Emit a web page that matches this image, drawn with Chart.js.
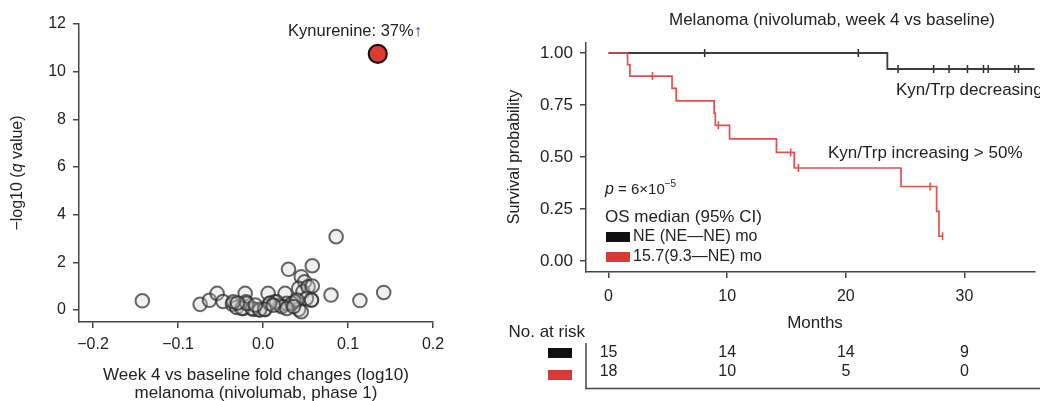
<!DOCTYPE html>
<html><head><meta charset="utf-8">
<script src="https://cdn.jsdelivr.net/npm/chart.js@4.4.0/dist/chart.umd.min.js"></script>
<style>
html,body{margin:0;padding:0;background:#fff;overflow:hidden;width:1040px;height:401px;}
#left{position:absolute;left:0;top:0;}
#right{position:absolute;left:480px;top:0;}
</style></head><body>
<canvas id="left" width="480" height="401"></canvas>
<canvas id="right" width="560" height="401"></canvas>
<script>
// ---------- Left panel: volcano-style scatter ----------
const metX = [-0.142,-0.074,-0.063,-0.054,-0.047,-0.036,-0.031,-0.021,-0.020,-0.023,-0.011,-0.004,0.002,0.006,0.008,0.014,0.020,0.026,0.030,0.028,0.038,0.042,0.045,0.049,0.042,0.047,0.053,0.058,0.058,0.057,0.051,0.080,0.086,0.114,0.142,-0.025,-0.013,-0.004,-0.035,0.016,0.022,0.034,0.040,0.045,0.057,0.008,0.002,-0.019,-0.009,0.028,-0.030,0.012,0.036];
const metY = [0.39,0.24,0.41,0.70,0.36,0.25,0.11,0.70,0.35,0.07,0.03,0.03,0.03,0.70,0.28,0.35,0.21,0.70,1.71,0.28,0.35,0.03,1.40,1.19,0.91,0.77,0.98,1.86,1.01,0.42,0.49,0.63,3.08,0.40,0.74,0.07,0.07,0.00,0.35,0.35,0.14,0.28,0.42,-0.07,0.42,0.28,0.03,0.28,0.21,0.07,0.30,0.20,0.15];
const kynX = [0.135];
const kynY = [10.75];
const leftYTicks = [0,2,4,6,8,10,12];
const leftXTicks = [-0.2,-0.1,0,0.1,0.2];
const leftXTickLabels = ['\u22120.2','\u22120.1','0.0','0.1','0.2'];

// ---------- Right panel: Kaplan-Meier ----------
const incT = [0,1.6,1.8,5.35,5.7,8.9,9.0,10.2,14.15,15.65,24.65,27.65,27.85,28.15];
const incS = [1,0.944,0.889,0.830,0.770,0.711,0.652,0.587,0.522,0.447,0.358,0.238,0.119,0.119];
const incCensT = [3.7,9.25,15.35,16.0,27.1,28.15];
const incCensS = [0.889,0.652,0.522,0.447,0.358,0.119];
const decT = [0,23.5,37];
const decS = [1,0.923,0.923];
const decCensT = [8.1,21.05,24.4,27.4,28.7,30.25,31.6,32.0,34.25,34.55];
const decCensS = [1,1,0.923,0.923,0.923,0.923,0.923,0.923,0.923,0.923];
const kmYTicks = [0,0.25,0.5,0.75,1];
const kmYTickLabels = ['0.00','0.25','0.50','0.75','1.00'];
const kmXTicks = [0,10,20,30];
const riskTimes = [0,10,20,30];
const riskDec = [15,14,14,9];
const riskInc = [18,10,5,0];

const FONT = '"Liberation Sans", Arial, Helvetica, sans-serif';
const TXT = '#222';
const AX = '#444';
const RED = '#e0504f';
const RED_BOX = '#d83a3a';
const f = (s, st) => `${st||''} ${s}px ${FONT}`.trim();
const pts = (xs, ys) => xs.map((x,i)=>({x, y: ys[i]}));

function runs(ctx, parts, x, y, align) {
  let total = 0;
  parts.forEach(p => { ctx.font = p.f; p.w = ctx.measureText(p.t).width; total += p.w; });
  let cx = align === 'center' ? x - total/2 : align === 'right' ? x - total : x;
  ctx.textAlign = 'left'; ctx.textBaseline = 'middle';
  parts.forEach(p => { ctx.font = p.f; ctx.fillStyle = p.c || TXT; ctx.fillText(p.t, cx, y + (p.dy||0)); cx += p.w; });
}
function vruns(ctx, parts, x, y) {
  ctx.save(); ctx.translate(x, y); ctx.rotate(-Math.PI/2);
  runs(ctx, parts, 0, 0, 'center'); ctx.restore();
}

Chart.defaults.font.family = FONT;
Chart.defaults.color = TXT;

const leftText = {
  id: 'leftText',
  afterDraw(chart) {
    const ctx = chart.ctx;
    ctx.save();
    vruns(ctx, [{t:'\u2212log10 (', f:f(16)}, {t:'q', f:f(16,'italic')}, {t:' value)', f:f(16)}], 18, 173);
    runs(ctx, [{t:'Week 4 vs baseline fold changes (log10)', f:f(17)}], 256, 375, 'center');
    runs(ctx, [{t:'melanoma (nivolumab, phase 1)', f:f(17)}], 256, 393, 'center');
    runs(ctx, [{t:'Kynurenine: 37%', f:f(16.5)}, {t:'\u2191', f:f(16.5), c:'#3b2d6e'}], 355, 31, 'center');
    ctx.restore();
  }
};

new Chart(document.getElementById('left'), {
  type: 'scatter',
  data: { datasets: [
    { data: pts(kynX, kynY), backgroundColor: '#e03a30', borderColor: '#141414', borderWidth: 2.2, pointRadius: 9 },
    { data: pts(metX, metY), backgroundColor: 'rgba(205,205,205,0.3)', borderColor: 'rgba(45,45,45,0.72)', borderWidth: 2, pointRadius: 6.8 }
  ]},
  options: {
    responsive: false, animation: false, devicePixelRatio: 1,
    layout: { padding: { top: 24, right: 47, left: 0, bottom: 0 } },
    plugins: { legend: { display: false }, tooltip: { enabled: false } },
    scales: {
      x: {
        type: 'linear', min: -0.2165, max: 0.2,
        afterFit: s => { s.height = 79; },
        afterBuildTicks: s => { s.ticks = leftXTicks.map(v => ({value: v})); },
        ticks: { padding: 7, color: TXT, font: { size: 16 }, maxRotation: 0,
          callback: v => leftXTickLabels[leftXTicks.indexOf(v)] },
        grid: { drawOnChartArea: false, drawTicks: true, tickLength: 6, color: AX, tickColor: AX, lineWidth: 1.5 },
        border: { display: true, color: AX, width: 1.5 }
      },
      y: {
        type: 'linear', min: -0.5, max: 12,
        afterFit: s => { s.width = 79; },
        afterBuildTicks: s => { s.ticks = leftYTicks.map(v => ({value: v})); },
        ticks: { padding: 7, color: TXT, font: { size: 16 }, callback: v => String(v) },
        grid: { drawOnChartArea: false, drawTicks: true, tickLength: 6, color: AX, tickColor: AX, lineWidth: 1.5 },
        border: { display: true, color: AX, width: 1.5 }
      }
    }
  },
  plugins: [leftText]
});

const rightText = {
  id: 'rightText',
  afterDraw(chart) {
    const ctx = chart.ctx;
    const xs = chart.scales.x;
    ctx.save();
    runs(ctx, [{t:'Melanoma (nivolumab, week 4 vs baseline)', f:f(17)}], 352, 20, 'center');
    vruns(ctx, [{t:'Survival probability', f:f(16)}], 35, 157);
    runs(ctx, [{t:'Kyn/Trp decreasing', f:f(17)}], 416, 90, 'left');
    runs(ctx, [{t:'Kyn/Trp increasing > 50%', f:f(17)}], 348, 153, 'left');
    runs(ctx, [{t:'p', f:f(16,'italic')}, {t:' = 6\u00d710', f:f(15)}, {t:'\u22125', f:f(10), dy:-6}], 125, 190, 'left');
    runs(ctx, [{t:'OS median (95% CI)', f:f(17)}], 125, 217, 'left');
    ctx.fillStyle = '#111'; ctx.fillRect(126, 232, 24, 10);
    ctx.fillStyle = RED_BOX; ctx.fillRect(126, 252, 24, 10);
    runs(ctx, [{t:'NE (NE\u2014NE) mo', f:f(16)}], 153, 237, 'left');
    runs(ctx, [{t:'15.7(9.3\u2014NE) mo', f:f(16)}], 153, 257, 'left');
    runs(ctx, [{t:'Months', f:f(17)}], 335, 323, 'center');
    // risk table
    runs(ctx, [{t:'No. at risk', f:f(17)}], 105, 332, 'right');
    ctx.strokeStyle = AX; ctx.lineWidth = 1.5;
    ctx.beginPath(); ctx.moveTo(106, 343); ctx.lineTo(106, 388.5); ctx.lineTo(560, 388.5); ctx.stroke();
    ctx.fillStyle = '#111'; ctx.fillRect(68, 348, 24, 10);
    ctx.fillStyle = RED_BOX; ctx.fillRect(68, 370, 24, 10);
    riskTimes.forEach((t, i) => {
      const px = xs.getPixelForValue(t);
      runs(ctx, [{t:String(riskDec[i]), f:f(16)}], px, 353, 'center');
      runs(ctx, [{t:String(riskInc[i]), f:f(16)}], px, 372, 'center');
    });
    ctx.restore();
  }
};

new Chart(document.getElementById('right'), {
  type: 'line',
  data: { datasets: [
    { data: pts(incT, incS), borderColor: RED, borderWidth: 1.7, stepped: 'before', pointRadius: 0, fill: false },
    { data: pts(incCensT, incCensS), showLine: false, pointStyle: 'line', rotation: 90, pointRadius: 4, borderColor: RED, borderWidth: 1.5 },
    { data: pts(decT, decS), borderColor: '#3c3c3c', borderWidth: 1.8, stepped: 'before', pointRadius: 0, fill: false },
    { data: pts(decCensT, decCensS), showLine: false, pointStyle: 'line', rotation: 90, pointRadius: 4, borderColor: '#2a2a2a', borderWidth: 1.5 }
  ]},
  options: {
    responsive: false, animation: false, devicePixelRatio: 1,
    layout: { padding: { top: 43, right: 0, left: 0, bottom: 0 } },
    plugins: { legend: { display: false }, tooltip: { enabled: false } },
    scales: {
      x: {
        type: 'linear', min: -1.9, max: 35.9,
        afterFit: s => { s.height = 129; },
        afterBuildTicks: s => { s.ticks = kmXTicks.map(v => ({value: v})); },
        ticks: { padding: 9, color: TXT, font: { size: 16 }, maxRotation: 0, callback: v => String(v) },
        grid: { drawOnChartArea: false, drawTicks: true, tickLength: 6, color: AX, tickColor: AX, lineWidth: 1.5 },
        border: { display: true, color: AX, width: 1.5 }
      },
      y: {
        type: 'linear', min: -0.053, max: 1.048,
        afterFit: s => { s.width = 106; },
        afterBuildTicks: s => { s.ticks = kmYTicks.map(v => ({value: v})); },
        ticks: { padding: 7, color: TXT, font: { size: 17 }, callback: v => kmYTickLabels[kmYTicks.indexOf(v)] },
        grid: { drawOnChartArea: false, drawTicks: true, tickLength: 6, color: AX, tickColor: AX, lineWidth: 1.5 },
        border: { display: true, color: AX, width: 1.5 }
      }
    }
  },
  plugins: [rightText]
});
</script>
</body></html>
